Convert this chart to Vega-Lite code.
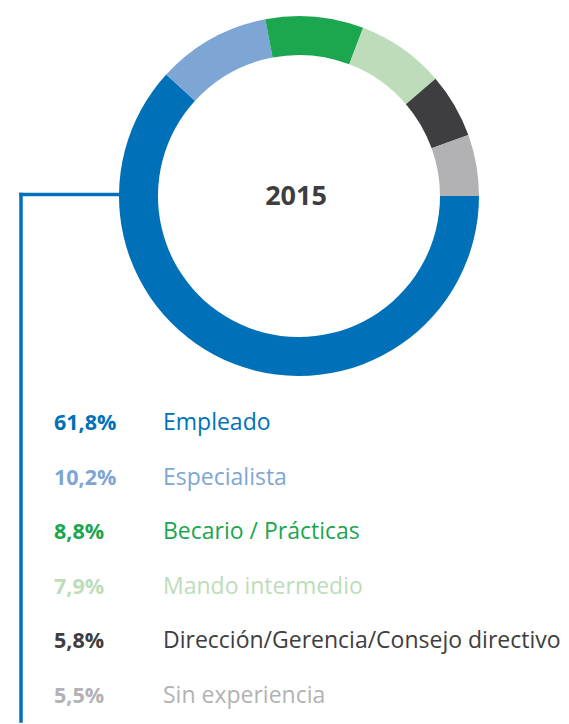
{
  "$schema": "https://vega.github.io/schema/vega-lite/v6.json",
  "width": 569,
  "height": 724,
  "autosize": {"type": "fit", "contains": "padding"},
  "padding": 0,
  "background": "white",
  "config": {"view": {"stroke": null}, "font": "Open Sans"},
  "datasets": {
    "perfil": [
      {"orden": 1, "categoria": "Empleado", "porcentaje": 61.8, "etiqueta": "61,8%"},
      {"orden": 2, "categoria": "Especialista", "porcentaje": 10.2, "etiqueta": "10,2%"},
      {"orden": 3, "categoria": "Becario / Prácticas", "porcentaje": 8.8, "etiqueta": "8,8%"},
      {"orden": 4, "categoria": "Mando intermedio", "porcentaje": 7.9, "etiqueta": "7,9%"},
      {"orden": 5, "categoria": "Dirección/Gerencia/Consejo directivo", "porcentaje": 5.8, "etiqueta": "5,8%"},
      {"orden": 6, "categoria": "Sin experiencia", "porcentaje": 5.5, "etiqueta": "5,5%"}
    ]
  },
  "resolve": {"scale": {"y": "independent"}},
  "layer": [
    {
      "data": {"values": [{"tramo": "horizontal"}]},
      "mark": {"type": "rule", "stroke": "#0071b8", "strokeWidth": 3.5, "strokeCap": "square"},
      "encoding": {
        "x": {"datum": 21, "type": "quantitative", "scale": {"domain": [0, 569], "nice": false, "zero": false}, "axis": null},
        "x2": {"datum": 130},
        "y": {"datum": 197, "type": "quantitative", "scale": {"domain": [724, 0], "nice": false, "zero": false}, "axis": null}
      }
    },
    {
      "data": {"values": [{"tramo": "vertical"}]},
      "mark": {"type": "rule", "stroke": "#0071b8", "strokeWidth": 3.5, "strokeCap": "square"},
      "encoding": {
        "x": {"datum": 21, "type": "quantitative", "scale": {"domain": [0, 569], "nice": false, "zero": false}, "axis": null},
        "y": {"datum": 197, "type": "quantitative", "scale": {"domain": [724, 0], "nice": false, "zero": false}, "axis": null},
        "y2": {"datum": 730}
      }
    },
    {
      "data": {"name": "perfil"},
      "mark": {"type": "arc", "outerRadius": 180, "innerRadius": 141},
      "encoding": {
        "x": {"datum": 299, "type": "quantitative", "scale": {"domain": [0, 569], "nice": false, "zero": false}, "axis": null},
        "y": {"datum": 198.5, "type": "quantitative", "scale": {"domain": [724, 0], "nice": false, "zero": false}, "axis": null},
        "theta": {"field": "porcentaje", "type": "quantitative", "stack": true, "scale": {"range": [1.5708, 7.854]}},
        "order": {"field": "orden", "type": "quantitative"},
        "color": {
          "field": "categoria", "type": "nominal", "legend": null,
          "scale": {
            "domain": ["Empleado", "Especialista", "Becario / Prácticas", "Mando intermedio", "Dirección/Gerencia/Consejo directivo", "Sin experiencia"],
            "range": ["#0071b8", "#7ea6d4", "#1ca64f", "#bddcba", "#3e3e40", "#b2b2b4"]
          }
        }
      }
    },
    {
      "data": {"values": [{"anio": "2015"}]},
      "mark": {"type": "text", "fontSize": 27, "fontWeight": "bold", "color": "#3e3e40", "align": "center", "baseline": "middle"},
      "encoding": {
        "x": {"datum": 296, "type": "quantitative", "scale": {"domain": [0, 569], "nice": false, "zero": false}, "axis": null},
        "y": {"datum": 199, "type": "quantitative", "scale": {"domain": [724, 0], "nice": false, "zero": false}, "axis": null},
        "text": {"field": "anio"}
      }
    },
    {
      "data": {"name": "perfil"},
      "mark": {"type": "text", "fontSize": 21.5, "fontWeight": "bold", "align": "left", "baseline": "alphabetic"},
      "encoding": {
        "x": {"datum": 54, "type": "quantitative", "scale": {"domain": [0, 569], "nice": false, "zero": false}, "axis": null},
        "y": {"field": "categoria", "type": "nominal", "sort": null, "scale": {"type": "point", "range": [430, 703], "padding": 0}, "axis": null},
        "text": {"field": "etiqueta"},
        "color": {"field": "categoria", "type": "nominal", "legend": null}
      }
    },
    {
      "data": {"name": "perfil"},
      "mark": {"type": "text", "fontSize": 23, "fontWeight": "normal", "align": "left", "baseline": "alphabetic"},
      "encoding": {
        "x": {"datum": 163, "type": "quantitative", "scale": {"domain": [0, 569], "nice": false, "zero": false}, "axis": null},
        "y": {"field": "categoria", "type": "nominal", "sort": null, "scale": {"type": "point", "range": [430, 703], "padding": 0}, "axis": null},
        "text": {"field": "categoria"},
        "color": {"field": "categoria", "type": "nominal", "legend": null}
      }
    }
  ]
}
